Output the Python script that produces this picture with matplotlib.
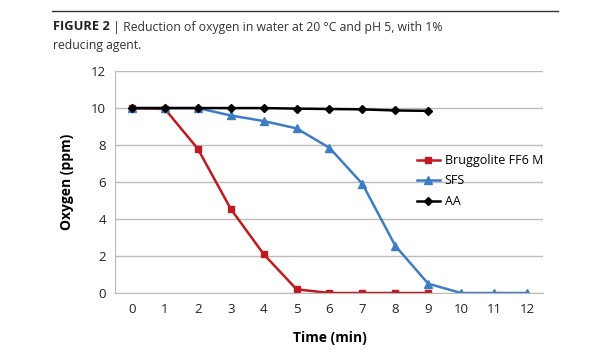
import matplotlib.pyplot as plt
from matplotlib.lines import Line2D

# dados
time = list(range(13))
brugg = [10, 9.95, 7.8, 4.55, 2.1, 0.2, 0, 0, 0, 0]
sfs = [10, 10, 10, 9.6, 9.3, 8.9, 7.85, 5.9, 2.55, 0.5, 0, 0, 0]
aa = [10, 10, 10, 10, 10, 9.97, 9.95, 9.93, 9.87, 9.85]
yticks = [0, 2, 4, 6, 8, 10, 12]

plt.rcParams['font.family'] = ['Open Sans', 'DejaVu Sans']

fig = plt.figure(figsize=(6.15, 3.5), dpi=100)
ax = fig.add_axes([0.1878, 0.1629, 0.6959, 0.634])

red = '#C0191F'
blue = '#3E7DC4'

ax.plot(time[:len(brugg)], brugg, color=red, marker='s', ms=5, lw=1.8, label='Bruggolite FF6 M')
ax.plot(time[:len(sfs)], sfs, color=blue, marker='^', ms=6, lw=1.8, label='SFS')
ax.plot(time[:len(aa)], aa, color='black', marker='D', ms=4.5, lw=1.8, label='AA')

ax.set_xlim(-0.5, 12.5)
ax.set_ylim(0, 12)
ax.set_xticks(time)
ax.set_yticks(yticks)
ax.tick_params(length=0, labelsize=9.5, colors='#222222', pad=7)
ax.grid(axis='y', color='#BBBBBB', lw=1)
ax.set_axisbelow(True)
for s in ['top', 'right']:
    ax.spines[s].set_visible(False)
ax.spines['left'].set_color('#BBBBBB')
ax.spines['bottom'].set_color('#BBBBBB')

ax.set_xlabel('Time (min)', fontsize=10, fontweight='bold', labelpad=11)
ax.set_ylabel('Oxygen (ppm)', fontsize=10, fontweight='bold', labelpad=12)

ax.legend(loc='upper left', bbox_to_anchor=(0.69, 0.655), frameon=False,
          fontsize=9, handlelength=1.8, handletextpad=0.4, labelspacing=0.6,
          borderpad=0)

# cabeçalho
fig.add_artist(Line2D([52 / 615, 558 / 615], [1 - 11 / 350] * 2, color='#333333', lw=1))
t1 = fig.text(53 / 615, 1 - 27 / 350, 'FIGURE 2', fontsize=9.3, fontweight='bold',
              va='center', color='#222222')
ax.annotate(' | Reduction of oxygen in water at 20 °C and pH 5, with 1%',
            xy=(1, 0.5), xycoords=t1, va='center', ha='left',
            fontsize=8.8, color='#333333', annotation_clip=False)
fig.text(53 / 615, 1 - 45 / 350, 'reducing agent.', fontsize=8.8, va='center', color='#333333')

fig.savefig('out.png', dpi=100)
